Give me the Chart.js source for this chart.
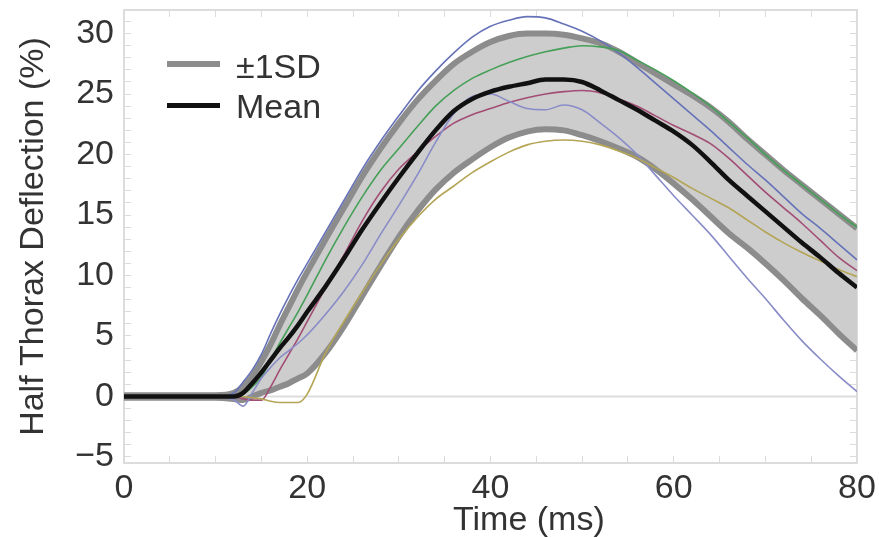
<!DOCTYPE html>
<html>
<head>
<meta charset="utf-8">
<script src="https://cdn.jsdelivr.net/npm/chart.js@4.4.1/dist/chart.umd.min.js"></script>
<style>
  html, body { margin: 0; padding: 0; background: #fff; }
  #wrap { position: relative; width: 879px; height: 538px; font-family: "Liberation Sans", Arial, sans-serif; color: #333; }
  canvas { position: absolute; left: 0; top: 0; }
  .sw { position: absolute; left: 167px; width: 53px; }
  .txt { position: absolute; font-size: 34px; line-height: 34px; white-space: nowrap; }
</style>
</head>
<body>
<div id="wrap">
  <canvas id="chart" width="879" height="538"></canvas>
  <div class="sw" style="top:61px;height:6px;background:#8c8c8c"></div>
  <div class="txt" style="left:236px;top:49px">±1SD</div>
  <div class="sw" style="top:103px;height:5px;background:#111"></div>
  <div class="txt" style="left:236px;top:89px">Mean</div>
  <div class="txt" style="left:453px;top:501px">Time (ms)</div>
</div>
<script>
// time samples (ms), shared by every curve
const times = [0, 10, 12, 13, 14, 15, 16, 17, 18, 19, 20, 22, 24, 26, 28, 30, 32, 34, 36, 38, 40,
  42, 44, 46, 48, 50, 52, 54, 56, 58, 60, 62, 64, 66, 68, 70, 72, 74, 76, 78, 80];

const meanDefl = [0, 0, 0, 0.3, 1.1, 2.0, 3.0, 4.0, 4.9, 5.9, 7.0, 9.1, 11.4, 13.8, 16.0, 18.1, 20.1, 22.0, 23.6, 24.6, 25.2,
  25.6, 25.9, 26.2, 26.2, 26.0, 25.3, 24.5, 23.7, 22.8, 21.9, 20.8, 19.4, 17.9, 16.6, 15.3, 14.0, 12.7, 11.5, 10.2, 9.0];

const upperSD = [0.1, 0.1, 0.3, 0.8, 1.7, 2.9, 4.3, 5.9, 7.4, 8.9, 10.3, 13.0, 15.6, 18.2, 20.5, 22.6, 24.5, 26.1, 27.5, 28.5, 29.3,
  29.8, 30.0, 30.0, 29.9, 29.6, 29.2, 28.5, 27.6, 26.7, 25.8, 24.9, 23.9, 22.7, 21.3, 20.0, 18.7, 17.5, 16.3, 15.1, 13.9];

const lowerSD = [-0.1, -0.1, -0.2, -0.3, 0, 0.3, 0.5, 0.8, 1.1, 1.5, 1.9, 3.6, 5.8, 8.3, 10.8, 13.2, 15.3, 17.1, 18.5, 19.6, 20.6,
  21.4, 21.9, 22.1, 22.0, 21.6, 21.1, 20.5, 19.8, 18.8, 17.6, 16.3, 14.9, 13.5, 12.3, 11.0, 9.6, 8.1, 6.7, 5.2, 3.8];

const testBlueHigh = [0, 0, 0.3, 1.2, 2.2, 3.5, 5.2, 6.8, 8.3, 9.7, 11.0, 13.6, 16.2, 18.8, 21.1, 23.2, 25.2, 26.9, 28.4, 29.7, 30.6,
  31.1, 31.4, 31.3, 30.8, 30.2, 29.4, 28.4, 27.2, 25.9, 24.6, 23.3, 22.0, 20.6, 19.2, 17.9, 16.5, 15.1, 13.9, 12.6, 11.3];

const testGreen = [0, 0, 0, 0.2, 0.8, 1.6, 3.0, 4.4, 5.7, 7.0, 8.4, 11.3, 14.0, 16.5, 18.7, 20.5, 22.3, 24.0, 25.3, 26.3, 27.0,
  27.6, 28.1, 28.5, 28.8, 29.0, 28.9, 28.6, 27.8, 27.0, 26.1, 25.1, 24.0, 22.7, 21.4, 20.0, 18.7, 17.5, 16.3, 15.1, 14.0];

const testRed = [0, 0, 0, -0.2, -0.3, -0.3, 0.8, 2.2, 3.5, 4.8, 6.2, 9.0, 11.7, 14.5, 16.9, 18.8, 20.2, 21.5, 22.6, 23.3, 23.8,
  24.3, 24.7, 25.0, 25.2, 25.3, 25.1, 24.6, 24.0, 23.2, 22.4, 21.7, 20.9, 19.7, 18.3, 16.9, 15.6, 14.3, 12.9, 11.5, 10.4];

const testBlueLow = [0, 0, -0.3, -0.8, 0.3, 1.5, 2.4, 3.2, 3.8, 4.4, 5.1, 6.8, 8.7, 10.9, 13.4, 15.8, 18.3, 21.0, 23.4, 24.8, 25.0,
  24.4, 23.8, 23.7, 24.1, 23.7, 22.6, 21.4, 20.0, 18.3, 16.6, 15.0, 13.4, 11.6, 9.8, 8.1, 6.3, 4.6, 3.1, 1.7, 0.4];

const testOlive = [0, 0, 0, 0, -0.1, -0.2, -0.4, -0.5, -0.5, -0.5, 0.2, 3.6, 6.2, 8.6, 10.9, 13.0, 14.8, 16.3, 17.4, 18.5, 19.4,
  20.2, 20.8, 21.1, 21.2, 21.1, 20.8, 20.3, 19.7, 18.9, 18.1, 17.2, 16.4, 15.6, 14.6, 13.6, 12.7, 11.9, 11.2, 10.5, 9.9];

const zeroLineX = [0, 80];

const xTickLabels = [0, 20, 40, 60, 80];
const yTickLabels = [-5, 0, 5, 10, 15, 20, 25, 30];

const FONT = "'Liberation Sans', Arial, sans-serif";
const frameColor = "#dcdcdc";

function pts(ys) {
  return times.map((t, i) => ({ x: t, y: ys[i] }));
}

function curve(ys, color, width, order, extra = {}) {
  return Object.assign({
    data: pts(ys),
    borderColor: color,
    backgroundColor: color,
    borderWidth: width,
    pointRadius: 0,
    cubicInterpolationMode: "monotone",
    fill: false,
    order
  }, extra);
}

// inward tick marks on every side of the frame
function frameGrid() {
  return { drawOnChartArea: false, drawTicks: true, tickLength: -7, color: frameColor, lineWidth: 1 };
}

// fixed box size, and no extra room for overhanging labels
function fixSize(prop, size) {
  return s => {
    s[prop] = size;
    s.paddingLeft = s.paddingRight = s.paddingTop = s.paddingBottom = 0;
  };
}

const chart = new Chart(document.getElementById("chart"), {
  type: "line",
  data: {
    datasets: [
      {
        data: zeroLineX.map(x => ({ x, y: 0 })),
        borderColor: "#dddddd",
        borderWidth: 2,
        pointRadius: 0,
        fill: false,
        order: 10
      },
      curve(upperSD, "#8c8c8c", 6, 8, { fill: "+1", backgroundColor: "#cdcdcd" }),
      curve(lowerSD, "#8c8c8c", 6, 7),
      curve(testOlive, "#b3a555", 1.6, 5),
      curve(testBlueLow, "#8a8cc8", 1.6, 5),
      curve(testRed, "#a24d75", 1.6, 5),
      curve(testGreen, "#45a057", 1.6, 5),
      curve(testBlueHigh, "#6672b8", 1.6, 5),
      curve(meanDefl, "#111111", 4.5, 1)
    ]
  },
  options: {
    responsive: false,
    animation: false,
    devicePixelRatio: 1,
    layout: { padding: 0, autoPadding: false },
    plugins: {
      legend: { display: false },
      tooltip: { enabled: false },
      filler: { drawTime: "beforeDatasetsDraw" }
    },
    scales: {
      x: {
        type: "linear",
        position: "bottom",
        min: 0,
        max: 80,
        afterFit: fixSize("height", 75),
        border: { display: true, color: frameColor, width: 2 },
        grid: frameGrid(),
        ticks: {
          stepSize: 5,
          autoSkip: false,
          maxRotation: 0,
          padding: 12,
          color: "#333",
          font: { family: FONT, size: 34 },
          callback: v => (xTickLabels.includes(v) ? String(v) : "")
        }
      },
      y: {
        type: "linear",
        position: "left",
        min: -5.5,
        max: 31.95,
        afterFit: fixSize("width", 124),
        border: { display: true, color: frameColor, width: 2 },
        grid: frameGrid(),
        title: {
          display: true,
          text: "Half Thorax Deflection (%)",
          color: "#333",
          font: { family: FONT, size: 34, lineHeight: 1 },
          padding: { top: 17, bottom: 0 }
        },
        ticks: {
          stepSize: 1,
          includeBounds: false,
          autoSkip: false,
          padding: 17,
          color: "#333",
          font: { family: FONT, size: 34 },
          callback: v => (yTickLabels.includes(v) ? String(v).replace("-", "\u2212") : "")
        }
      },
      xTop: {
        type: "linear",
        position: "top",
        min: 0,
        max: 80,
        afterFit: fixSize("height", 10),
        border: { display: true, color: frameColor, width: 2 },
        grid: frameGrid(),
        ticks: { stepSize: 5, display: false }
      },
      yRight: {
        type: "linear",
        position: "right",
        min: -5.5,
        max: 31.95,
        afterFit: fixSize("width", 22),
        border: { display: true, color: frameColor, width: 2 },
        grid: frameGrid(),
        ticks: { stepSize: 1, includeBounds: false, display: false }
      }
    }
  }
});
</script>
</body>
</html>
